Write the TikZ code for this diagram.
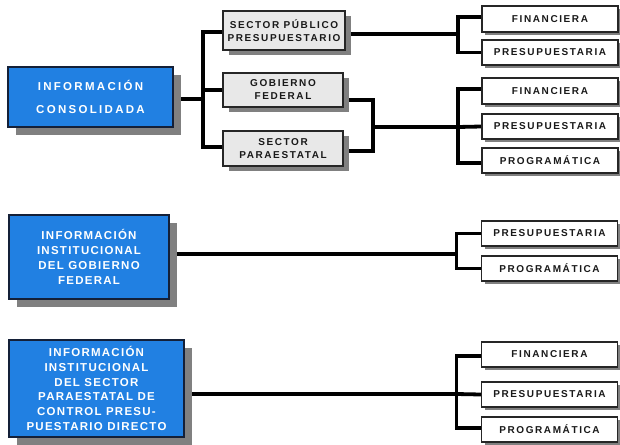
\documentclass[tikz,border=0pt]{standalone}
\usepackage{fontspec}
\setmainfont{Liberation Sans}
\newfontfamily\boxfont{Liberation Sans}[LetterSpace=11]
\newfontfamily\wideboxfont{Liberation Sans}[LetterSpace=20]
\newfontfamily\leaffont{Liberation Sans}[LetterSpace=16]
\usetikzlibrary{shadows,backgrounds}
\definecolor{infoblue}{RGB}{33,128,226}
\definecolor{boxgray}{RGB}{232,232,232}
\definecolor{shadegray}{RGB}{128,128,128}
\definecolor{edgenavy}{RGB}{20,32,56}

\begin{document}
\begin{tikzpicture}[
  x=1pt, y=-1pt,
  bigbox/.style={draw=edgenavy, line width=1.2pt, fill=infoblue, text=white,
    inner sep=0pt, align=center, font=\boxfont\bfseries\fontsize{11.5}{14.8}\selectfont,
    drop shadow={shadow xshift=8pt, shadow yshift=-8pt, fill=shadegray, opacity=1}},
  midbox/.style={draw=black!85, line width=1.2pt, fill=boxgray, text=black!90,
    inner sep=0pt, align=center, font=\leaffont\bfseries\fontsize{10}{13}\selectfont,
    drop shadow={shadow xshift=5.5pt, shadow yshift=-5pt, fill=shadegray, opacity=1}},
  leafbox/.style={draw=black!85, line width=1.2pt, fill=white, text=black!90,
    inner sep=0pt, align=center, font=\leaffont\bfseries\fontsize{10}{12}\selectfont,
    minimum width=136pt, minimum height=25pt,
    drop shadow={shadow xshift=3pt, shadow yshift=-3pt, fill=shadegray, opacity=1}},
  bus/.style={line width=3.8pt, black},
]
  \useasboundingbox (0,0) rectangle (620,444);

  % Left column
  \node[bigbox, minimum width=165pt, minimum height=60pt, font=\wideboxfont\bfseries\fontsize{11.5}{14.8}\selectfont]
    (cons) at (90.5,97) {INFORMACIÓN\\[9pt]CONSOLIDADA};
  \node[bigbox, minimum width=160pt, minimum height=84pt] (inst) at (89,257)
    {INFORMACIÓN\\INSTITUCIONAL\\DEL GOBIERNO\\FEDERAL};
  \node[bigbox, minimum width=175pt, minimum height=97pt] (paraes) at (96.5,388.5)
    {INFORMACIÓN\\INSTITUCIONAL\\DEL SECTOR\\PARAESTATAL DE\\CONTROL PRESU-\\PUESTARIO DIRECTO};

  % Middle column
  \node[midbox, minimum width=122pt, minimum height=39pt] (spp) at (284,30.5)
    {SECTOR PÚBLICO\\PRESUPUESTARIO};
  \node[midbox, minimum width=120pt, minimum height=34pt] (gf) at (283,90)
    {GOBIERNO\\FEDERAL};
  \node[midbox, minimum width=120pt, minimum height=35pt] (sp) at (283,148.5)
    {SECTOR\\PARAESTATAL};

  % Right column
  \node[leafbox, minimum height=26pt] (fin1) at (550,19) {FINANCIERA};
  \node[leafbox] (pre1) at (550,52.5) {PRESUPUESTARIA};
  \node[leafbox, minimum height=26pt] (fin2) at (550,91) {FINANCIERA};
  \node[leafbox] (pre2) at (550,126.5) {PRESUPUESTARIA};
  \node[leafbox] (prog2) at (550,160.5) {PROGRAMÁTICA};
  \node[leafbox] (pre3) at (549.5,233.5) {PRESUPUESTARIA};
  \node[leafbox] (prog3) at (549.5,268.5) {PROGRAMÁTICA};
  \node[leafbox] (fin4) at (549.5,354.5) {FINANCIERA};
  \node[leafbox] (pre4) at (549.5,394.5) {PRESUPUESTARIA};
  \node[leafbox] (prog4) at (549.5,429.5) {PROGRAMÁTICA};

  % Bus points
  \coordinate (b1) at (203,99);
  \coordinate (b2) at (458,34);
  \coordinate (m1) at (373,127);
  \coordinate (b3) at (458,127);
  \coordinate (b4) at (456.5,254);
  \coordinate (b5) at (456.5,394);

  \begin{pgfonlayer}{background}
    % Consolidated information
    \draw[bus] ([yshift=-2pt]cons.east) -- (b1);
    \draw[bus] ([yshift=-1.5pt]spp.west) -| (b1) |- ([yshift=1.5pt]sp.west);
    \draw[bus] (gf.west) -- (gf.west -| b1);
    \draw[bus] ([yshift=-3.5pt]spp.east) -- (b2);
    \draw[bus] ([yshift=2pt]fin1.west) -| (b2) |- (pre1.west);
    \draw[bus] ([yshift=-10pt]gf.east) -| (m1) |- ([yshift=-2.5pt]sp.east);
    \draw[bus] (m1) -- (b3);
    \draw[bus] ([yshift=2pt]fin2.west) -| (b3) |- ([yshift=-2.5pt]prog2.west);
    \draw[bus] (pre2.west) -- (b3);
    % Federal government
    \draw[bus] ([yshift=3pt]inst.east) -- (b4);
    \draw[bus] (pre3.west) -| (b4) |- (prog3.west);
    % Parastatal sector
    \draw[bus] ([yshift=-5.5pt]paraes.east) -- (b5);
    \draw[bus] ([yshift=-1.5pt]fin4.west) -| (b5) |- ([yshift=1.5pt]prog4.west);
    \draw[bus] (pre4.west) -- (b5);
  \end{pgfonlayer}
\end{tikzpicture}
\end{document}
